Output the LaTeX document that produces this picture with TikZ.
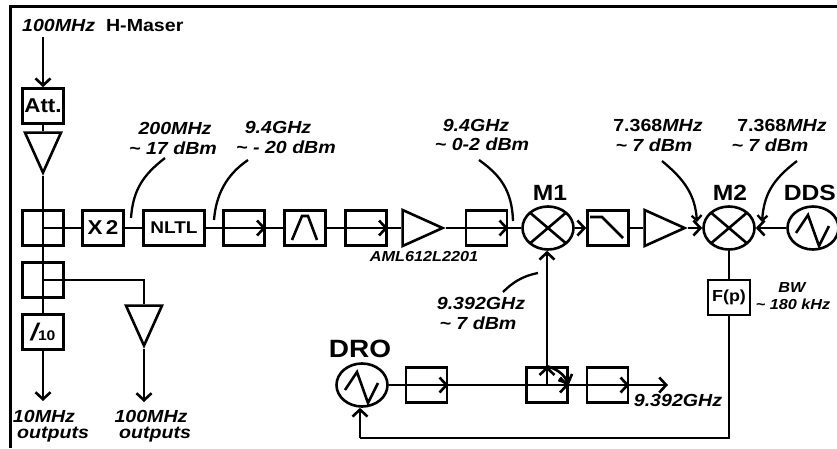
\documentclass[tikz,border=0pt]{standalone}
\usepackage{fontspec}
\setmainfont{Liberation Sans}[FakeStretch=1.12]
\usetikzlibrary{positioning, arrows.meta, shapes.geometric}
\tikzset{
    box/.style={draw, line width=2.6pt, minimum width=41pt, minimum height=35pt, inner sep=0pt, font=\bfseries},
    amp/.style={draw, line width=2.6pt, isosceles triangle, isosceles triangle stretches, minimum width=36pt, minimum height=40pt, inner sep=0pt, anchor=apex},
    mixer/.style={draw, line width=2.6pt, ellipse, minimum width=51pt, minimum height=43pt, inner sep=0pt, path picture={
        \draw[line width=2.6pt] ([shift={(-20pt,-17pt)}]path picture bounding box.center) -- ([shift={(20pt,17pt)}]path picture bounding box.center);
        \draw[line width=2.6pt] ([shift={(-20pt,17pt)}]path picture bounding box.center) -- ([shift={(20pt,-17pt)}]path picture bounding box.center);}},
    osc/.style={draw, line width=2.6pt, ellipse, minimum width=51pt, minimum height=43pt, inner sep=0pt, path picture={
        \draw[line width=2.6pt] ([shift={(-17pt,-5pt)}]path picture bounding box.center) -- ([shift={(-5pt,13pt)}]path picture bounding box.center) -- ([shift={(6pt,-18pt)}]path picture bounding box.center) -- ([shift={(16pt,2pt)}]path picture bounding box.center);}},
    sig/.style={line width=2.6pt},
    arr/.style={line width=2.6pt, -{Straight Barb[length=7pt,width=15pt,line width=2.6pt]}},
    lead/.style={line width=2.3pt},
    lab/.style={font=\bfseries\itshape\fontsize{17.5}{17.5}\selectfont, inner sep=0pt},
    small/.style={font=\bfseries\itshape\fontsize{14.5}{14.5}\selectfont, inner sep=0pt},
    big/.style={font=\bfseries\fontsize{22}{22}\selectfont, inner sep=0pt},
}
\begin{document}
\begin{tikzpicture}[x=1pt,y=-1pt,node distance=61pt,on grid]
        \useasboundingbox (0,0) rectangle (837,448);
        \draw[line width=3pt] (10,448) -- (10,6) -- (837,6);

        % main chain
        \node[box, font=\bfseries\fontsize{20}{20}\selectfont] (att) at (43,106) {Att.};
        \node[amp, shape border rotate=-90] (amp1) at (43,176) {};
        \node[box] (split1) at (43,228) {};
        \node[box, font=\bfseries\fontsize{20}{20}\selectfont] (x2) [right=60pt of split1] {X\,2};
        \node[box, minimum width=61pt, font=\bfseries\fontsize{17}{17}\selectfont] (nltl) [right=71pt of x2] {NLTL};
        \node[box] (iso1) [right=70pt of nltl] {};
        \node[box, path picture={\draw[sig] ([shift={(-13pt,-12pt)}]path picture bounding box.center) -- ([shift={(-3pt,12pt)}]path picture bounding box.center) -- ([shift={(3pt,12pt)}]path picture bounding box.center) -- ([shift={(12pt,-12pt)}]path picture bounding box.center);}] (bpf) [right of=iso1] {};
        \node[box] (iso2) [right of=bpf] {};
        \node[amp] (amp2) at (446,228) {};
        \node[box] (iso3) at (486.5,228) {};
        \node[mixer] (m1) at (548,228) {};
        \node[box, path picture={\draw[sig] ([shift={(-18pt,11pt)}]path picture bounding box.center) -- ([shift={(-6pt,11pt)}]path picture bounding box.center) -- ([shift={(15pt,-10pt)}]path picture bounding box.center);}] (lpf) [right=60pt of m1] {};
        \node[amp] (amp3) at (688,228) {};
        \node[mixer] (m2) at (729,228) {};
        \node[osc] (dds) at (813,228) {};
        \node[box, minimum width=42pt, font=\bfseries\fontsize{16}{16}\selectfont] (fp) at (729,297.5) {F(p)};

        % outputs
        \node[box] (split2) at (43,280) {};
        \node[box] (div) at (43,332) {\fontsize{24}{24}\selectfont\itshape /\fontsize{14}{14}\selectfont\upshape 10};
        \node[amp, shape border rotate=-90] (amp4) at (144,349) {};
        \coordinate (in) at (43,37);
        \coordinate (out1) at (43,401);
        \coordinate (out2) at (144,402);

        % DRO loop
        \node[osc] (dro) at (362,385) {};
        \node[box] (iso4) at (426.5,385) {};
        \node[box] (cpl) at (547,385) {};
        \node[box] (iso5) at (607.5,385) {};
        \coordinate (out3) at (668,385);
        \coordinate (bend) at (360,438);

        \path[sig]
        (att) edge (amp1.lower side)
        (amp1.apex) edge (split1.center)
        (split1.center) edge (split2.center)
        (split2.center) edge (div)
        (split1.center) edge (x2)
        (x2) edge (nltl)
        (nltl) edge (iso1)
        (iso1) edge (bpf)
        (bpf) edge (iso2)
        (iso2) edge (amp2.lower side)
        (amp2.apex) edge (iso3)
        (iso3) edge (m1)
        (lpf) edge (amp3.lower side)
        (m2) edge (fp)
        (dro) edge (iso4)
        (iso4) edge (cpl)
        (cpl.east) edge (iso5)
        ;
        \draw[sig] (split2.center) -| (amp4.lower side);

        \draw[arr] (in) -- (att);
        \draw[arr] (iso1.west) -- (iso1.east);
        \draw[arr] (iso2.west) -- (iso2.east);
        \draw[arr] (iso3.west) -- (iso3.east);
        \draw[arr] (m1) -- (lpf.west);
        \draw[arr] (amp3.apex) -- (m2.west);
        \draw[arr] (dds) -- (m2);
        \draw[arr] (div) -- (out1);
        \draw[arr] (amp4.apex) -- (out2);
        \draw[arr] (iso4.west) -- (iso4.east);
        \draw[arr] (iso5.west) -- (iso5.east);
        \draw[arr] (iso5.east) -- (out3);
        \draw[arr] (cpl.west) -- (cpl.east);
        \draw[arr] (cpl.center) -- (cpl.north);
        \draw[arr] (cpl.north) to[bend left=25] (cpl.east);
        \draw[arr] (cpl.north) -- (cpl.north |- m1.south);
        \draw[sig] (fp) |- (bend);
        \draw[arr] (bend) -- (bend |- dro.south);

        % leaders
        \coordinate (l1a) at (165,158);
        \coordinate (l1b) at (131,218);
        \coordinate (l2a) at (248,160);
        \coordinate (l2b) at (214,220);
        \coordinate (l3a) at (479,160);
        \coordinate (l3b) at (513,221);
        \coordinate (l4a) at (662,161);
        \coordinate (l4b) at (697,222);
        \coordinate (l5a) at (797,161);
        \coordinate (l5b) at (762,222);
        \coordinate (l6a) at (538,273);
        \coordinate (l6b) at (503,292);
        \draw[lead] (l1a) .. controls (143,175) and (133,190) .. (l1b);
        \draw[lead] (l2a) .. controls (226,175) and (216,195) .. (l2b);
        \draw[lead] (l3a) .. controls (500,175) and (512,190) .. (l3b);
        \draw[lead, -{Straight Barb[length=5pt,width=10pt,line width=2.3pt]}] (l4a) .. controls (685,180) and (695,195) .. (l4b);
        \draw[lead, -{Straight Barb[length=5pt,width=10pt,line width=2.3pt]}] (l5a) .. controls (772,180) and (764,195) .. (l5b);
        \draw[lead] (l6a) .. controls (522,276) and (512,283) .. (l6b);

        % labels
        \node[lab, anchor=west] (t0) at (22,25) {100MHz\ \ \upshape H-Maser};
        \node[lab] (t1) at (175,128) {200MHz};
        \node[lab] (t2) at (173,148) {\textasciitilde{} 17 dBm};
        \node[lab] (t3) at (278,127) {9.4GHz};
        \node[lab] (t4) at (286,147) {\textasciitilde{} - 20 dBm};
        \node[lab] (t5) at (476,125) {9.4GHz};
        \node[lab] (t6) at (482,144) {\textasciitilde{} 0-2 dBm};
        \node[lab] (t7) at (658,125) {\upshape 7.368\itshape MHz};
        \node[lab] (t8) at (654,145) {\textasciitilde{} 7 dBm};
        \node[lab] (t9) at (782,125) {\upshape 7.368\itshape MHz};
        \node[lab] (t10) at (770,145) {\textasciitilde{} 7 dBm};
        \node[lab] (t11) at (481,303) {9.392GHz};
        \node[lab] (t12) at (478,323) {\textasciitilde{} 7 dBm};
        \node[lab] (t13) at (678,400) {9.392GHz};
        \node[lab] (t14) at (44,416) {10MHz};
        \node[lab] (t15) at (53,435) {outputs};
        \node[lab] (t16) at (151,416) {100MHz};
        \node[lab] (t17) at (155,435) {outputs};
        \node[small] (t18) at (424,257) {AML612L2201};
        \node[small] (t19) at (792,288) {BW};
        \node[small] (t20) at (793,304) {\textasciitilde{} 180 kHz};
        \node[big] (t21) at (550,193) {M1};
        \node[big] (t22) at (730,193) {M2};
        \node[big, anchor=east] (t23) at (836,193) {DDS};
        \node[big, font=\bfseries\fontsize{25}{25}\selectfont] (t24) at (360,349) {DRO};
\end{tikzpicture}
\end{document}
